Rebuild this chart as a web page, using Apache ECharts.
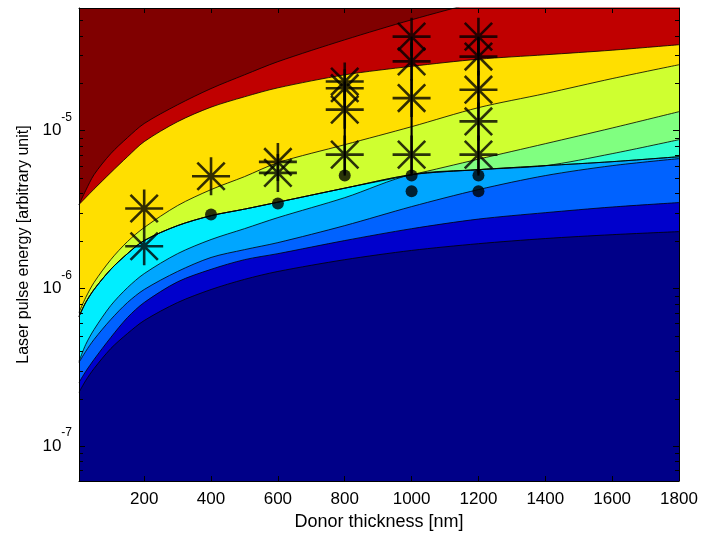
<!DOCTYPE html>
<html>
<head>
<meta charset="utf-8">
<script src="https://cdn.jsdelivr.net/npm/echarts@6/dist/echarts.min.js"></script>
<style>html,body{margin:0;padding:0;background:#fff}#c{width:717px;height:535px}</style>
</head>
<body>
<div id="c"></div>
<script>
// ---- data ----
const xs = [5, 25, 50, 100, 150, 200, 300, 400, 500, 600, 800, 1000, 1200, 1400, 1600, 1800];
// lower edge of each filled contour band (energy values at xs)
const darkRedEdge   = [3.40e-6, 4.17e-6, 5.26e-6, 7.15e-6, 9.03e-6, 1.11e-5, 1.46e-5, 1.85e-5, 2.26e-5, 2.74e-5, 3.77e-5, 5.05e-5, 6.57e-5, 8.30e-5, 1.03e-4, 1.27e-4];
const redEdge       = [3.40e-6, 3.76e-6, 4.26e-6, 5.42e-6, 6.84e-6, 8.52e-6, 1.14e-5, 1.41e-5, 1.64e-5, 1.87e-5, 2.26e-5, 2.56e-5, 2.84e-5, 3.03e-5, 3.24e-5, 3.51e-5];
const yellowEdge    = [7.03e-7, 8.74e-7, 1.09e-6, 1.52e-6, 1.98e-6, 2.43e-6, 3.35e-6, 4.23e-6, 5.11e-6, 6.27e-6, 8.15e-6, 1.06e-5, 1.40e-5, 1.72e-5, 2.14e-5, 2.62e-5];
const yellowGreenEdge = [6.63e-7, 8.13e-7, 9.83e-7, 1.32e-6, 1.66e-6, 2.01e-6, 2.50e-6, 2.89e-6, 3.18e-6, 3.52e-6, 4.32e-6, 5.26e-6, 6.60e-6, 8.27e-6, 1.04e-5, 1.32e-5];
const greenEdge     = [6.63e-7, 8.13e-7, 9.83e-7, 1.32e-6, 1.66e-6, 2.01e-6, 2.50e-6, 2.89e-6, 3.18e-6, 3.52e-6, 4.32e-6, 5.26e-6, 5.66e-6, 6.00e-6, 7.15e-6, 8.77e-6];
const aquaEdge      = [6.63e-7, 8.13e-7, 9.83e-7, 1.32e-6, 1.66e-6, 2.01e-6, 2.50e-6, 2.89e-6, 3.18e-6, 3.52e-6, 4.32e-6, 5.26e-6, 5.66e-6, 6.00e-6, 6.36e-6, 6.84e-6];
const cyanEdge      = [3.44e-7, 4.40e-7, 5.48e-7, 7.78e-7, 1.01e-6, 1.24e-6, 1.66e-6, 2.04e-6, 2.39e-6, 2.81e-6, 3.76e-6, 5.26e-6, 5.66e-6, 6.00e-6, 6.36e-6, 6.84e-6];
const lightBlueEdge = [3.39e-7, 3.98e-7, 4.74e-7, 6.34e-7, 8.13e-7, 9.83e-7, 1.28e-6, 1.57e-6, 1.76e-6, 1.95e-6, 2.50e-6, 3.30e-6, 4.23e-6, 5.19e-6, 6.00e-6, 6.65e-6];
const blueEdge      = [2.53e-7, 2.97e-7, 3.54e-7, 4.88e-7, 6.53e-7, 8.13e-7, 1.10e-6, 1.32e-6, 1.52e-6, 1.66e-6, 2.01e-6, 2.39e-6, 2.75e-6, 3.02e-6, 3.28e-6, 3.50e-6];
const midBlueEdge   = [2.19e-7, 2.60e-7, 3.10e-7, 4.15e-7, 5.17e-7, 6.25e-7, 8.13e-7, 9.83e-7, 1.14e-6, 1.28e-6, 1.52e-6, 1.74e-6, 1.92e-6, 2.07e-6, 2.19e-6, 2.29e-6];

// measured points
const starX = [200, 200, 400, 600, 600, 800, 800, 800, 800, 1000, 1000, 1000, 1000, 1200, 1200, 1200, 1200, 1200];
const starE = [3.21e-6, 1.85e-6, 5.14e-6, 6.34e-6, 5.40e-6, 2.05e-5, 1.86e-5, 1.36e-5, 7.05e-6, 3.95e-5, 2.75e-5, 1.61e-5, 7.05e-6, 3.95e-5, 2.95e-5, 1.82e-5, 1.145e-5, 7.05e-6];
const dotX = [400, 600, 800, 1000, 1000, 1200, 1200];
const dotE = [2.94e-6, 3.45e-6, 5.19e-6, 5.19e-6, 4.13e-6, 5.19e-6, 4.13e-6];
const connectedX = [800, 1000, 1200];

// axes
const xMin = 5, xMax = 1800;
const yMin = 6.0e-8, yMax = 6.0e-5;
const yMajorExponents = [-7, -6, -5];
const yMinorTicks = [7e-8, 8e-8, 9e-8, 2e-7, 3e-7, 4e-7, 5e-7, 6e-7, 7e-7, 8e-7, 9e-7,
  2e-6, 3e-6, 4e-6, 5e-6, 6e-6, 7e-6, 8e-6, 9e-6, 2e-5, 3e-5, 4e-5, 5e-5];

const FONT = "'Liberation Sans', Arial, Helvetica, sans-serif";
const backgroundColor = '#800000';
const bands = [
  [darkRedEdge, '#C00000'],
  [redEdge, '#FFDF00'],
  [yellowEdge, '#CFFF30'],
  [yellowGreenEdge, '#80FF80'],
  [greenEdge, '#30FFCF'],
  [aquaEdge, '#00EEFF'],
  [cyanEdge, '#00A6FF'],
  [lightBlueEdge, '#0062FF'],
  [blueEdge, '#0000CC'],
  [midBlueEdge, '#000088']
];

const series = [];
bands.forEach(([edge, fill]) => {
  series.push({
    type: 'line',
    data: xs.map((x, i) => [x, edge[i]]),
    symbol: 'none',
    smooth: 0.3,
    lineStyle: { color: '#000', width: 0.8 },
    areaStyle: { color: fill, opacity: 1, origin: 'start' },
    silent: true,
    z: 2
  });
});

connectedX.forEach(cx => {
  const sv = starE.filter((e, i) => starX[i] === cx);
  const dv = dotE.filter((e, i) => dotX[i] === cx);
  series.push({
    type: 'line',
    data: [[cx, Math.max(...sv)], [cx, Math.max(...dv)]],
    symbol: 'none',
    lineStyle: { color: '#000', width: 2.2 },
    silent: true,
    z: 19
  });
});

series.push({
  type: 'scatter',
  data: starX.map((x, i) => [x, starE[i]]),
  symbol: 'path://M0,-1L0,1M-1,0L1,0M-0.72,-0.72L0.72,0.72M-0.72,0.72L0.72,-0.72',
  symbolSize: 38,
  itemStyle: { color: 'rgba(0,0,0,0)', borderColor: '#000', borderWidth: 2.6 },
  silent: true,
  z: 20
});
series.push({
  type: 'scatter',
  data: dotX.map((x, i) => [x, dotE[i]]),
  symbol: 'circle',
  symbolSize: 12,
  itemStyle: { color: '#000' },
  silent: true,
  z: 21
});
series.push({
  type: 'custom',
  coordinateSystem: 'cartesian2d',
  data: yMinorTicks.map(v => [xMin, v]),
  renderItem: (params, api) => {
    const p = api.coord([api.value(0), api.value(1)]);
    const cs = params.coordSys;
    const y = Math.round(p[1]) + 0.5;
    return {
      type: 'group',
      children: [
        { type: 'line', shape: { x1: cs.x, y1: y, x2: cs.x + 4, y2: y }, style: { stroke: '#000', lineWidth: 1 } },
        { type: 'line', shape: { x1: cs.x + cs.width - 4, y1: y, x2: cs.x + cs.width, y2: y }, style: { stroke: '#000', lineWidth: 1 } }
      ]
    };
  },
  clip: false,
  silent: true,
  z: 30
});

const axisLine = { show: true, onZero: false, lineStyle: { color: '#000', width: 1 } };
const chart = echarts.init(document.getElementById('c'), null, { renderer: 'canvas' });
chart.setOption({
  animation: false,
  backgroundColor: '#fff',
  grid: { left: 79, right: 38, top: 8, bottom: 54, show: true, backgroundColor: backgroundColor, borderWidth: 0, outerBoundsMode: 'none', containLabel: false },
  xAxis: [{
    type: 'value', min: xMin, max: xMax, splitNumber: 9, position: 'bottom',
    axisLine: axisLine,
    axisTick: { inside: true, length: 5, lineStyle: { color: '#000', width: 1 } },
    axisLabel: { showMinLabel: false, color: '#000', fontSize: 17, fontFamily: FONT, margin: 10, formatter: v => String(v) },
    splitLine: { show: false },
    name: 'Donor thickness [nm]', nameLocation: 'middle', nameGap: 31,
    nameTextStyle: { color: '#000', fontSize: 18, fontFamily: FONT },
    z: 10
  }, {
    type: 'value', min: xMin, max: xMax, splitNumber: 9, position: 'top',
    axisLine: axisLine,
    axisTick: { inside: true, length: 5, lineStyle: { color: '#000', width: 1 } },
    axisLabel: { show: false },
    splitLine: { show: false },
    z: 10
  }],
  yAxis: [{
    type: 'log', logBase: 10, min: yMin, max: yMax, position: 'left',
    axisLine: axisLine,
    axisTick: { inside: true, length: 6, lineStyle: { color: '#000', width: 1 } },
    axisLabel: {
      margin: 7,
      formatter: v => {
        const l = Math.log10(v);
        const e = Math.round(l);
        if (Math.abs(l - e) > 1e-6 || yMajorExponents.indexOf(e) < 0) return '';
        return '{b|10}{s|' + e + '}';
      },
      rich: {
        b: { fontSize: 17, fontFamily: FONT, color: '#000', lineHeight: 18 },
        s: { fontSize: 12, fontFamily: FONT, color: '#000', lineHeight: 12, padding: [0, 0, 26, 0] }
      }
    },
    splitLine: { show: false },
    minorTick: { show: false },
    name: 'Laser pulse energy [arbitrary unit]', nameLocation: 'middle', nameGap: 45,
    nameTextStyle: { color: '#000', fontSize: 16, fontFamily: FONT },
    z: 10
  }, {
    type: 'log', logBase: 10, min: yMin, max: yMax, position: 'right',
    axisLine: axisLine,
    axisTick: { inside: true, length: 6, lineStyle: { color: '#000', width: 1 } },
    axisLabel: { show: false },
    splitLine: { show: false },
    z: 10
  }],
  series: series
});
</script>
</body>
</html>
